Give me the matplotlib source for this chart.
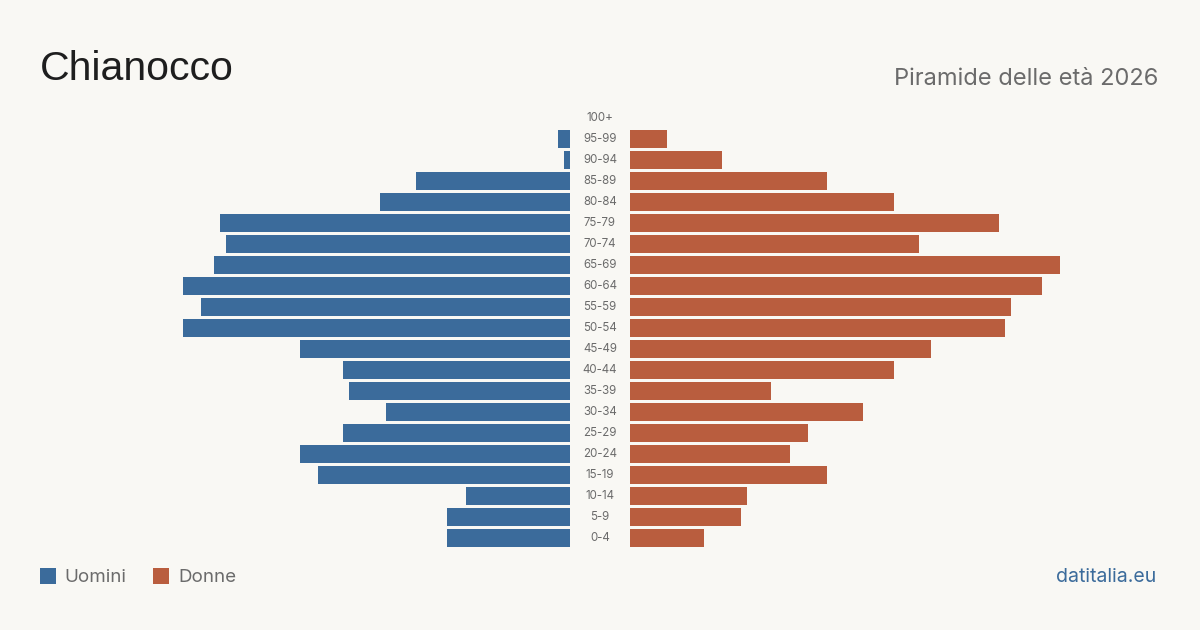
import matplotlib
matplotlib.use("Agg")
import matplotlib.pyplot as plt
import matplotlib.transforms as mtransforms
from matplotlib.patches import Rectangle

# Dati: piramide delle età Chianocco 2026 (dal basso verso l'alto)
eta = ["0-4", "5-9", "10-14", "15-19", "20-24", "25-29", "30-34", "35-39",
       "40-44", "45-49", "50-54", "55-59", "60-64", "65-69", "70-74",
       "75-79", "80-84", "85-89", "90-94", "95-99", "100+"]
uomini = [20, 20, 17, 41, 44, 37, 30, 36, 37, 44, 63, 60, 63, 58, 56, 57, 31, 25, 1, 2, 0]
donne = [12, 18, 19, 32, 26, 29, 38, 23, 43, 49, 61, 62, 67, 70, 47, 60, 43, 32, 15, 6, 0]

BG = "#f9f8f4"
BLU = "#3b6b9b"
ROSSO = "#b95d3e"
GRIGIO = "#6b6b6b"

W, H = 1200, 630
fig = plt.figure(figsize=(W / 100, H / 100), dpi=100, facecolor=BG)

vmax = max(max(uomini), max(donne))
y = list(range(len(eta)))
bottom = (H - 548.5) / H
height = (548.5 - 107.5) / H

ax_l = fig.add_axes([140 / W, bottom, 430 / W, height])
ax_r = fig.add_axes([630 / W, bottom, 430 / W, height])

ax_l.barh(y, uomini, height=0.81, color=BLU)
ax_r.barh(y, donne, height=0.81, color=ROSSO)

ax_l.set_xlim(vmax, 0)
ax_r.set_xlim(0, vmax)
for ax in (ax_l, ax_r):
    ax.set_ylim(-0.5, len(eta) - 0.5)
    ax.set_facecolor("none")
    ax.axis("off")

# etichette età al centro
trans = mtransforms.blended_transform_factory(fig.transFigure, ax_l.transData)
for i, lab in enumerate(eta):
    fig.text(0.5, i, lab, transform=trans, ha="center", va="center",
             fontsize=8.3, color=GRIGIO, family="Inter")

# titoli
fig.text(40 / W, 1 - 80 / H, "Chianocco", fontsize=29.5, color="#1e1e1e",
         family="Liberation Sans", va="baseline", ha="left")
fig.text(1158 / W, 1 - 85 / H, "Piramide delle età 2026", fontsize=17,
         color=GRIGIO, family="Inter", va="baseline", ha="right")

# legenda
fig.add_artist(Rectangle((40 / W, 1 - 584 / H), 16 / W, 16 / H,
                         transform=fig.transFigure, color=BLU, lw=0))
fig.text(64 / W, 1 - 582.5 / H, "Uomini", fontsize=13.5, color=GRIGIO,
         family="Inter", va="baseline", ha="left")
fig.add_artist(Rectangle((153 / W, 1 - 584 / H), 16 / W, 16 / H,
                         transform=fig.transFigure, color=ROSSO, lw=0))
fig.text(178 / W, 1 - 582.5 / H, "Donne", fontsize=13.5, color=GRIGIO,
         family="Inter", va="baseline", ha="left")

fig.text(1156 / W, 1 - 582.5 / H, "datitalia.eu", fontsize=14, color=BLU,
         family="Inter", va="baseline", ha="right")

fig.savefig("out.png", dpi=100, facecolor=BG)
